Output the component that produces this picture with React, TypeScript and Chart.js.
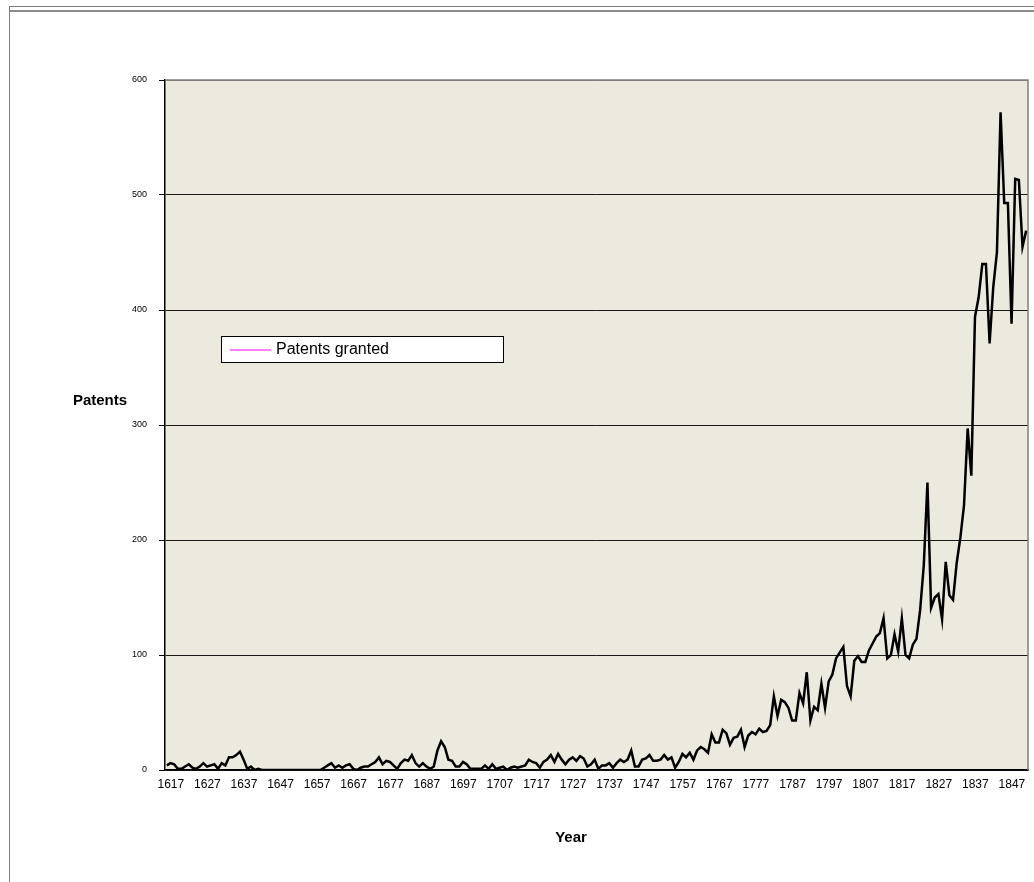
import React, { useEffect, useRef } from "react";
import { Chart, registerables } from "chart.js";

Chart.register(...registerables);

const FIRST_YEAR = 1617;
const patentsGranted: number[] = [
  4, 6, 5, 1, 1, 3, 5, 2, 1, 3,
  6, 3, 4, 5, 1, 6, 4, 11, 11, 13,
  16, 9, 1, 3, 0, 1, 0, 0, 0, 0,
  0, 0, 0, 0, 0, 0, 0, 0, 0, 0,
  0, 0, 0, 2, 4, 6, 2, 4, 2, 4,
  5, 1, 0, 2, 3, 3, 5, 7, 11, 5,
  8, 7, 4, 1, 6, 9, 8, 13, 6, 3,
  6, 3, 1, 3, 17, 25, 20, 9, 8, 3,
  3, 7, 5, 1, 1, 1, 1, 4, 1, 5,
  1, 2, 3, 0, 2, 3, 2, 3, 4, 9,
  7, 6, 2, 7, 9, 13, 7, 14, 9, 5,
  9, 11, 8, 12, 10, 3, 5, 9, 1, 4,
  4, 6, 2, 6, 9, 7, 9, 17, 3, 3,
  9, 10, 13, 8, 8, 9, 13, 9, 11, 2,
  7, 14, 11, 15, 9, 17, 20, 18, 15, 31,
  24, 24, 35, 32, 22, 28, 29, 35, 20, 30,
  33, 31, 36, 33, 34, 39, 64, 47, 61, 59,
  54, 43, 43, 67, 58, 85, 43, 55, 52, 75,
  54, 77, 83, 97, 102, 107, 73, 64, 95, 99,
  94, 94, 104, 110, 116, 119, 132, 97, 100, 118,
  103, 132, 100, 97, 109, 114, 139, 178, 250, 141,
  150, 153, 131, 181, 152, 148, 180, 202, 230, 297,
  256, 394, 411, 440, 440, 371, 420, 450, 572, 493,
  493, 388, 514, 513, 455, 469,
];
const years: string[] = patentsGranted.map((_, i) => String(FIRST_YEAR + i));
const X_LABEL_EVERY = 10;
const Y_MIN = 0;
const Y_MAX = 600;
const Y_STEP = 100;
const seriesLabel = "Patents granted";
const yTitle = "Patents";
const xTitle = "Year";

const FONT = "'Liberation Sans', Arial, sans-serif";

const decorPlugin = {
  id: "decor",
  beforeDraw(chart: any) {
    const { ctx, chartArea: a } = chart;
    ctx.save();
    ctx.fillStyle = "#ECE9DF";
    ctx.fillRect(a.left, a.top, a.right - a.left, a.bottom - a.top);
    ctx.restore();
  },
  afterDraw(chart: any) {
    const { ctx, chartArea: a } = chart;
    ctx.save();
    // gray top & right frame of plot area
    ctx.strokeStyle = "#808080";
    ctx.lineWidth = 1.5;
    ctx.beginPath();
    ctx.moveTo(a.left, a.top);
    ctx.lineTo(a.right, a.top);
    ctx.lineTo(a.right, a.bottom);
    ctx.stroke();

    // axis titles
    ctx.fillStyle = "#000";
    ctx.font = `bold 15px ${FONT}`;
    ctx.textAlign = "center";
    ctx.textBaseline = "middle";
    ctx.fillText(yTitle, 100, 401);
    ctx.fillText(xTitle, 571, 838);

    // legend
    const lx = 221, ly = 336, lw = 282, lh = 26;
    ctx.fillStyle = "#fff";
    ctx.fillRect(lx, ly, lw, lh);
    ctx.strokeStyle = "#000";
    ctx.lineWidth = 1;
    ctx.strokeRect(lx + 0.5, ly + 0.5, lw, lh);
    ctx.strokeStyle = "#FF80FF";
    ctx.lineWidth = 2;
    ctx.beginPath();
    ctx.moveTo(230, 350);
    ctx.lineTo(271, 350);
    ctx.stroke();
    ctx.fillStyle = "#000";
    ctx.font = `16px ${FONT}`;
    ctx.textAlign = "left";
    ctx.textBaseline = "middle";
    ctx.fillText(seriesLabel, 276, 350);
    ctx.restore();
  },
};

export default function App() {
  const ref = useRef<HTMLCanvasElement | null>(null);
  useEffect(() => {
    if (!ref.current) return;
    const chart = new Chart(ref.current, {
      type: "line",
      data: {
        labels: years,
        datasets: [
          {
            label: seriesLabel,
            data: patentsGranted,
            borderColor: "#000",
            borderWidth: 2.5,
            pointRadius: 0,
            tension: 0,
            fill: false,
          },
        ],
      },
      options: {
        responsive: false,
        animation: false,
        devicePixelRatio: 1,
        layout: { padding: { top: 80, right: 6, left: 0, bottom: 0 } },
        plugins: {
          legend: { display: false },
          tooltip: { enabled: false },
          title: { display: false },
        },
        scales: {
          x: {
            type: "category",
            offset: true,
            grid: { display: false, drawTicks: false },
            border: { display: true, color: "#000", width: 1.5 },
            ticks: {
              autoSkip: false,
              maxRotation: 0,
              minRotation: 0,
              padding: 7,
              labelOffset: 4,
              color: "#000",
              font: { family: FONT, size: 12 },
              callback: (_v: any, idx: number) =>
                idx % X_LABEL_EVERY === 0 ? years[idx] : null,
            },
            afterFit: (s: any) => {
              s.height = 112;
            },
          },
          y: {
            min: Y_MIN,
            max: Y_MAX,
            grid: {
              color: (c: any) => (c.tick && c.tick.value === Y_MAX ? "#808080" : "#1a1a1a"),
              lineWidth: 1,
              tickLength: 6,
              tickColor: "#000",
              drawOnChartArea: true,
            },
            border: { display: true, color: "#000", width: 1.5 },
            ticks: {
              stepSize: Y_STEP,
              padding: 12,
              color: "#000",
              font: { family: FONT, size: 9 },
            },
            afterFit: (s: any) => {
              s.width = 165;
            },
          },
        },
      },
      plugins: [decorPlugin],
    });
    return () => chart.destroy();
  }, []);

  return (
    <div style={{ position: "absolute", left: 0, top: 0, width: 1034, height: 882, background: "#fff", overflow: "hidden" }}>
      <canvas ref={ref} width={1034} height={882} style={{ position: "absolute", left: 0, top: 0 }} />
      <div style={{ position: "absolute", left: 9, top: 6, width: 1025, height: 1, background: "#7f7f7f" }} />
      <div style={{ position: "absolute", left: 9, top: 10, width: 1025, height: 2, background: "#8c8c8c" }} />
      <div style={{ position: "absolute", left: 9, top: 6, width: 1, height: 876, background: "#7f7f7f" }} />
    </div>
  );
}
